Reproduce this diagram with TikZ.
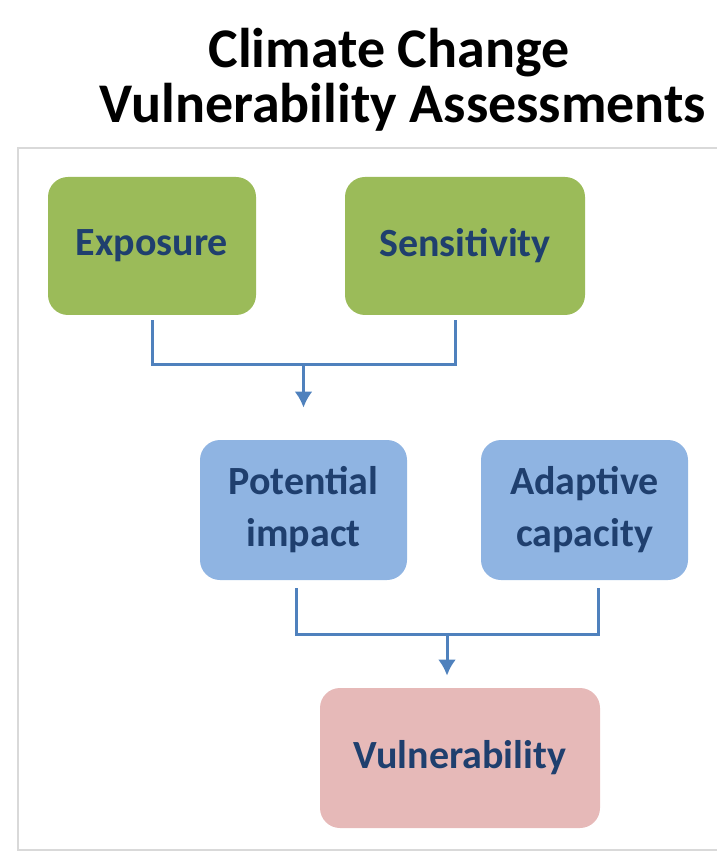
\documentclass[tikz,border=0pt]{standalone}
\usepackage{fontspec}
\setmainfont{Carlito}
\usetikzlibrary{positioning,calc,arrows.meta}

\definecolor{leafgreen}{HTML}{9BBB59}
\definecolor{skyblue}{HTML}{8FB4E2}
\definecolor{rosepink}{HTML}{E6B9B8}
\definecolor{inkblue}{HTML}{1F3F6E}
\definecolor{linkblue}{HTML}{4F81BD}
\definecolor{framegray}{HTML}{D9D9D9}

\begin{document}
\begin{tikzpicture}[x=0.5pt, y=-0.5pt, >={Latex[length=8pt,width=9pt]},
    box/.style={rounded corners=10pt, align=center, inner sep=3pt,
                font=\fontsize{20}{26}\selectfont\bfseries, text=inkblue},
    link/.style={draw=linkblue, line width=1.5pt},
    heading/.style={anchor=base, font=\fontsize{28}{34}\selectfont\bfseries}]
    \useasboundingbox (0,0) rectangle (716,854);

    % title and frame
    \node (title)    [heading] at (389,68)  {Climate Change};
    \node (subtitle) [heading] at (403,123) {Vulnerability Assessments};
    \draw[framegray, line width=1pt] (730,148) -- (18,148) -- (18,850) -- (730,850);

    % top row
    \node (exposure)    [box, fill=leafgreen, minimum width=104pt, minimum height=69pt] at (152,246)   {Exposure};
    \node (sensitivity) [box, fill=leafgreen, minimum width=120pt, minimum height=69pt] at (465,246)   {Sensitivity};
    % middle row
    \node (impact)      [box, fill=skyblue, minimum width=103.5pt, minimum height=70pt] at (303.5,510) {Potential\\impact};
    \node (adaptive)    [box, fill=skyblue, minimum width=103.5pt, minimum height=70pt] at (584.5,510) {Adaptive\\capacity};
    % result
    \node (vuln)        [box, fill=rosepink, minimum width=140pt, minimum height=70pt]  at (460,758)   {Vulnerability};

    \coordinate (join1) at (303.5,365);
    \coordinate (join2) at (447,634);
    \draw[link] ([yshift=-2.5pt]exposure.south) |- (join1) -| ([xshift=-5pt,yshift=-2.5pt]sensitivity.south);
    \draw[link,->] (join1) -- ([yshift=16pt]impact.north);
    \draw[link] ([xshift=-3.75pt,yshift=-4pt]impact.south) |- (join2) -| ([xshift=6.75pt,yshift=-4pt]adaptive.south);
    \draw[link,->] (join2) -- ([xshift=-6.5pt,yshift=6pt]vuln.north);
  \end{tikzpicture}
\end{document}
